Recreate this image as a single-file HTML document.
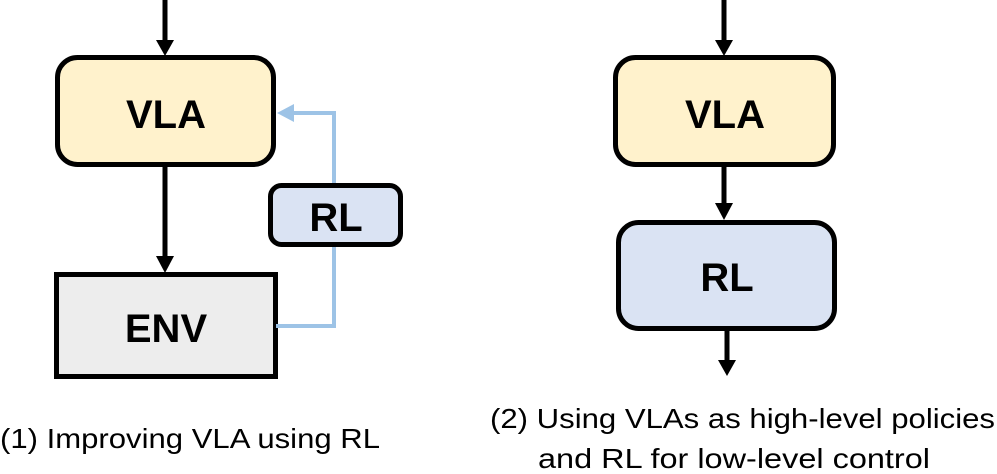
<!DOCTYPE html>
<html><head><style>
html,body{margin:0;padding:0;background:#fff;}
svg{display:block;}
</style></head><body>
<svg width="997" height="474" viewBox="0 0 997 474" xmlns="http://www.w3.org/2000/svg" font-family="'Liberation Sans', sans-serif">
<!-- left -->
<line x1="165" y1="0" x2="165" y2="42" stroke="#000" stroke-width="5"/>
<path d="M156,40 L174,40 L165,56 Z" fill="#000"/>
<rect x="57.5" y="57.5" width="216" height="107" rx="20" fill="#fff2cc" stroke="#000" stroke-width="5"/>
<text x="166" y="128" text-anchor="middle" font-size="40" font-weight="bold">VLA</text>
<line x1="165" y1="166" x2="165" y2="258" stroke="#000" stroke-width="5"/>
<path d="M156,256 L174,256 L165,273 Z" fill="#000"/>
<rect x="56.5" y="274.5" width="219" height="102" fill="#ededed" stroke="#000" stroke-width="5"/>
<text x="166" y="342" text-anchor="middle" font-size="40" font-weight="bold">ENV</text>
<polyline points="276,326 334,326 334,113 292,113" fill="none" stroke="#9dc3e6" stroke-width="4"/>
<path d="M277,113 L294,104 L294,122 Z" fill="#9dc3e6"/>
<rect x="270.5" y="185.5" width="130" height="59" rx="11" fill="#dae3f3" stroke="#000" stroke-width="5"/>
<text x="336" y="231" text-anchor="middle" font-size="40" font-weight="bold">RL</text>
<!-- right -->
<line x1="724" y1="0" x2="724" y2="42" stroke="#000" stroke-width="5"/>
<path d="M715,40 L733,40 L724,56 Z" fill="#000"/>
<rect x="615.5" y="57.5" width="218" height="107" rx="20" fill="#fff2cc" stroke="#000" stroke-width="5"/>
<text x="725" y="128" text-anchor="middle" font-size="40" font-weight="bold">VLA</text>
<line x1="724" y1="166" x2="724" y2="205" stroke="#000" stroke-width="5"/>
<path d="M715,203 L733,203 L724,220 Z" fill="#000"/>
<rect x="618.5" y="222.5" width="216" height="106" rx="20" fill="#dae3f3" stroke="#000" stroke-width="5"/>
<text x="727" y="291" text-anchor="middle" font-size="40" font-weight="bold">RL</text>
<line x1="727" y1="330" x2="727" y2="362" stroke="#000" stroke-width="5"/>
<path d="M718,360 L736,360 L727,376 Z" fill="#000"/>
<!-- captions -->
<text x="0" y="448" font-size="28" textLength="380" lengthAdjust="spacingAndGlyphs">(1) Improving VLA using RL</text>
<text x="490" y="428" font-size="28" textLength="505" lengthAdjust="spacingAndGlyphs">(2) Using VLAs as high-level policies</text>
<text x="538" y="468" font-size="28" textLength="392" lengthAdjust="spacingAndGlyphs">and RL for low-level control</text>
</svg>
</body></html>
